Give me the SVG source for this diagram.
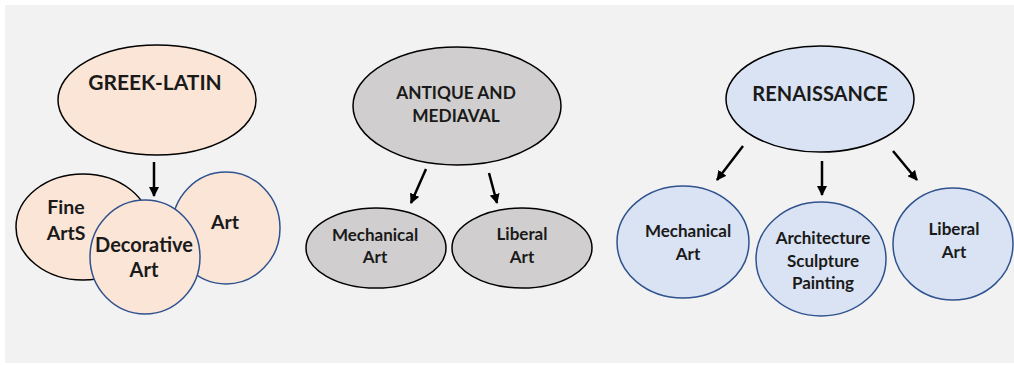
<svg xmlns="http://www.w3.org/2000/svg" width="1014" height="365" viewBox="0 0 1014 365">
<defs>
<style>
.bg{fill:#f2f2f2}
.peach{fill:#fbe5d6}
.gray{fill:#d0cece}
.blue{fill:#dae3f3}
.bk{stroke:#000;stroke-width:1.5}
.bl{stroke:#2f528f;stroke-width:1.5}
text{font-family:"Lato","Liberation Sans",sans-serif;font-weight:bold;fill:#1a1a1a;text-anchor:middle}
.arrow{stroke:#000;stroke-width:2.5;fill:none;marker-end:url(#ah)}
</style>
<marker id="ah" viewBox="0 0 10 10" refX="9" refY="5" markerWidth="4" markerHeight="4" orient="auto" markerUnits="strokeWidth">
<path d="M0,0 L10,5 L0,10 z" fill="#000"/>
</marker>
</defs>
<rect class="bg" x="5" y="5" width="1009" height="358"/>

<g id="connectors">
<line class="arrow" x1="154" y1="162" x2="154" y2="196"/>
<line class="arrow" x1="426" y1="169" x2="411" y2="203"/>
<line class="arrow" x1="489" y1="173" x2="497" y2="203"/>
<line class="arrow" x1="743" y1="146" x2="717" y2="180"/>
<line class="arrow" x1="822" y1="161" x2="822" y2="195"/>
<line class="arrow" x1="893" y1="151" x2="917" y2="180"/>
</g>

<g id="greek-latin">
<ellipse class="peach bk" cx="157" cy="100" rx="99" ry="55"/>
<text x="155" y="90" font-size="21">GREEK-LATIN</text>
</g>
<g id="fine-arts">
<ellipse class="peach bk" cx="83" cy="227" rx="67" ry="53"/>
<text x="66" y="214" font-size="19.5">Fine</text>
<text x="66" y="240" font-size="19.5">ArtS</text>
</g>
<g id="art">
<ellipse class="peach bl" cx="226" cy="228" rx="54" ry="56"/>
<text x="225" y="229" font-size="19.5">Art</text>
</g>
<g id="decorative-art">
<ellipse class="peach bl" cx="145" cy="257" rx="55" ry="57"/>
<text x="144" y="252" font-size="20">Decorative</text>
<text x="144" y="277" font-size="20">Art</text>
</g>

<g id="antique">
<ellipse class="gray bk" cx="457" cy="106" rx="104" ry="59"/>
<text x="456" y="99" font-size="17.3">ANTIQUE AND</text>
<text x="456" y="122" font-size="17.3">MEDIAVAL</text>
</g>
<g id="mech-art-1">
<ellipse class="gray bk" cx="376" cy="248" rx="70" ry="40"/>
<text x="375" y="241" font-size="17">Mechanical</text>
<text x="375" y="263" font-size="17">Art</text>
</g>
<g id="liberal-art-1">
<ellipse class="gray bk" cx="522" cy="248" rx="70" ry="40"/>
<text x="522" y="240" font-size="17">Liberal</text>
<text x="522" y="263" font-size="17">Art</text>
</g>

<g id="renaissance">
<ellipse class="blue bk" cx="820" cy="99" rx="94" ry="53"/>
<text x="820" y="101" font-size="20">RENAISSANCE</text>
</g>
<g id="mech-art-2">
<ellipse class="blue bl" cx="683" cy="242" rx="66" ry="56"/>
<text x="688" y="237" font-size="17">Mechanical</text>
<text x="688" y="260" font-size="17">Art</text>
</g>
<g id="arch">
<ellipse class="blue bl" cx="821" cy="259" rx="65" ry="57"/>
<text x="823" y="244" font-size="17">Architecture</text>
<text x="823" y="267" font-size="17">Sculpture</text>
<text x="823" y="289" font-size="17">Painting</text>
</g>
<g id="liberal-art-2">
<ellipse class="blue bl" cx="953" cy="244" rx="60" ry="56"/>
<text x="954" y="235" font-size="17">Liberal</text>
<text x="954" y="258" font-size="17">Art</text>
</g>
</svg>
